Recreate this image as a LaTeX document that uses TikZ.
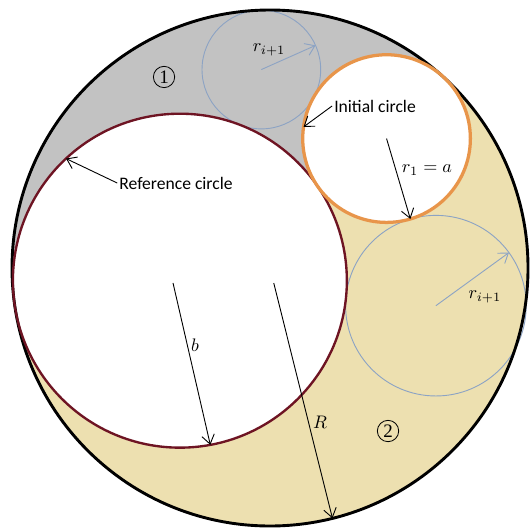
\documentclass[tikz,border=0pt]{standalone}
\usepackage{xcolor}
\usepackage{tikz}
\usepackage{amsmath}
\usepackage{fontspec}
\setmainfont{Carlito}
\newfontfamily\numfont{Liberation Serif}
\usetikzlibrary{arrows.meta, calc}
\definecolor{tanfill}{HTML}{EDE0B0}
\definecolor{grayfill}{HTML}{C2C2C2}
\definecolor{refred}{HTML}{6E1423}
\definecolor{initorange}{HTML}{E8954A}
\definecolor{chainblue}{HTML}{8CA3C4}

\begin{document}
\begin{tikzpicture}[every node/.style={font=\fontsize{9.7}{12}\selectfont, inner sep=1pt},
    radius arrow/.style={-{Straight Barb[length=5pt,width=7pt]}, line width=0.5pt},
    chain arrow/.style={radius arrow, chainblue},
    num/.style={circle, draw, line width=0.45pt, inner sep=1.1pt,
        font=\numfont\fontsize{10.5}{12}\selectfont}]
    \useasboundingbox (-5.233,-5.039) rectangle (5.058,5.194);

    % centres
    \coordinate (outc) at (0,0);
    \coordinate (refc) at (188:1.764);
    \coordinate (initc) at (48:3.3753);
    \coordinate (topc) at (92.5:3.85);
    \coordinate (rightc) at (3.215,-0.73);

    % touching points
    \coordinate (tob) at (188:5);
    \coordinate (toa) at (48:5);
    \coordinate (tab) at ($(refc)!0.66575!(initc)$);

    % regions 1 and 2
    \fill[tanfill] (outc) circle (5);
    \begin{scope}
        \clip (tob) -- (tab) -- (toa) -- (48:7) -- (90:7) -- (135:8) -- (188:7) -- cycle;
        \fill[grayfill] (outc) circle (5);
    \end{scope}
    \fill[white] (refc) circle (3.236);
    \fill[white] (initc) circle (1.6247);

    % chain circles
    \draw[chainblue, line width=0.5pt] (topc) circle (1.15);
    \draw[chainblue, line width=0.5pt] (rightc) circle (1.75);

    % main circles
    \draw[line width=1.6pt] (outc) circle (5);
    \draw[refred, line width=1.3pt] (refc) circle (3.236);
    \draw[initorange, line width=1.8pt] (initc) circle (1.6247);

    % radii
    \coordinate (bstart) at (-1.88,-0.29);
    \coordinate (bend) at ($(refc)+(-79.5:3.236)$);
    \draw[radius arrow] (bstart) -- (bend);
    \node (blbl) at (-1.453,-1.492) {$b$};

    \coordinate (rstart) at (-76:0.3);
    \coordinate (rend) at (-76:5);
    \draw[radius arrow] (rstart) -- (rend);
    \node (rlbl) at (0.969,-2.984) {$R$};

    \coordinate (aend) at ($(initc)+(-73.5:1.6247)$);
    \draw[radius arrow] (initc) -- (aend);
    \node (albl) at (3.043,1.899) {$r_1 = a$};

    \coordinate (topend) at ($(topc)+(24:1.15)$);
    \draw[chain arrow] (topc) -- (topend);
    \node (toplbl) at ($(topc)+(0.15,0.38)$) {$r_{i+1}$};

    \coordinate (rightend) at ($(rightc)+(36:1.75)$);
    \draw[chain arrow] (rightc) -- (rightend);
    \node (rightlbl) at ($(rightc)+(0.95,0.17)$) {$r_{i+1}$};

    % names
    \coordinate (refpt) at ($(refc)+(133:3.236)$);
    \node (reflbl) at (-1.822,1.647) {Reference circle};
    \draw[radius arrow] (reflbl.west) -- (refpt);

    \coordinate (initpt) at ($(initc)+(172:1.6247)$);
    \node (initlbl) at (2.035,3.140) {Initial circle};
    \draw[radius arrow] (initlbl.west) -- (initpt);

    \node[num] (one) at (-2.054,3.702) {1};
    \node[num] (two) at (2.287,-3.159) {2};
\end{tikzpicture}
\end{document}
